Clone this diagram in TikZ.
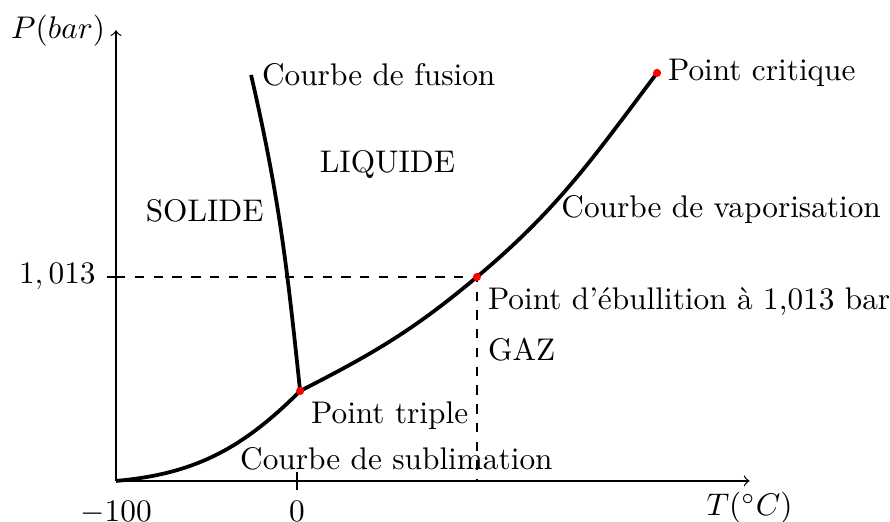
\documentclass[tikz,border=0pt]{standalone}
\usetikzlibrary{positioning}

\begin{document}
\begin{tikzpicture}[x=2.033cm, y=2.033cm, courbe/.style={very thick}, tick/.style={thin}]
  \useasboundingbox (-0.641,-0.2265) rectangle (4.276,2.657);
  % axes
  \coordinate (O) at (0,0);
  \coordinate (xmax) at (3.5,0);
  \coordinate (ymax) at (0,2.49);
  \draw[->] (O) -- (xmax) node[below] (xlab) {$T(^\circ C)$};
  \draw[->] (O) -- (ymax) node[left] (ylab) {$P(bar)$};
  % points remarquables
  \coordinate (T) at (1.017,0.497);
  \coordinate (B) at (1.994,1.127);
  \coordinate (C) at (2.989,2.254);
  \coordinate (F) at (0.746,2.243);
  \coordinate (t0) at (1,0);
  \coordinate (p0) at (0,1.127);
  % graduations
  \node[below] (lm100) at ([yshift=-3pt]O) {$-100$};
  \draw[tick] ([yshift=3pt]t0) -- ([yshift=-3pt]t0) node[below] (l0) {$0$};
  \draw[tick] ([xshift=3pt]p0) -- ([xshift=-3pt]p0) node[left] (l1013) {$1,013$};
  \draw[dashed] (p0) -- (B) -- (B |- O);
  % courbes
  \draw[courbe] (O) to[out=5,in=-135] (T);
  \draw[courbe] (T) to[out=27,in=-140] (B) to[out=40,in=-127] (C);
  \draw[courbe] (T) to[out=96,in=-77] (F);
  \foreach \p in {T,B,C} \fill[red] (\p) circle (1.3pt);
  % textes
  \node[right] (lfus) at (F) {Courbe de fusion};
  \node[right] (lcrit) at (C) {Point critique};
  \node[right] (lvap) at (2.4,1.5) {Courbe de vaporisation};
  \node[below right] (lebul) at (B) {Point d'ébullition à 1,013 bar};
  \node[anchor=north west] (gaz) at (lebul.south west) {GAZ};
  \node[below right] (ltrip) at (T) {Point triple};
  \node[above right] (lsub) at (0.625,0) {Courbe de sublimation};
  \node (sol) at (0.49,1.49) {SOLIDE};
  \node (liq) at (1.5,1.75) {LIQUIDE};
\end{tikzpicture}
\end{document}
